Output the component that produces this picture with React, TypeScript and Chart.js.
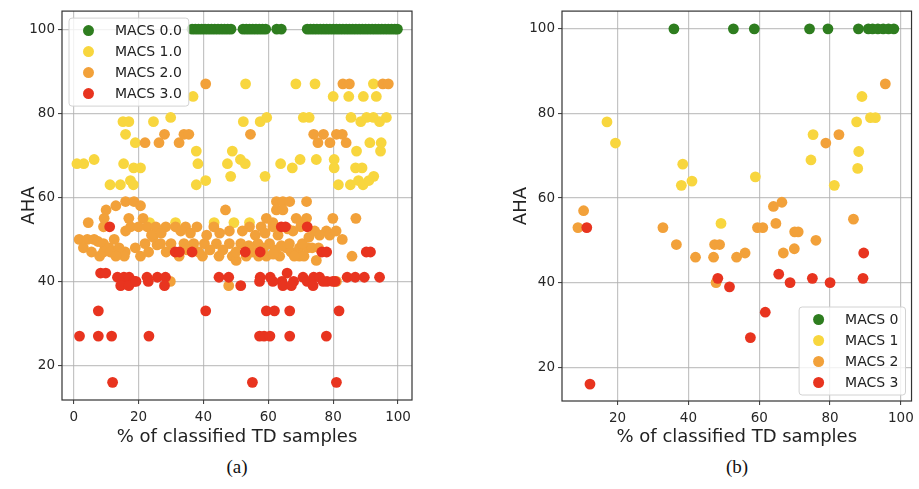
import { useEffect, useRef } from 'react';
import { Chart, registerables } from 'chart.js';

Chart.register(...registerables);

// ---------- data ----------
const seriesColors = ['#2e7d1f', '#f8d63e', '#f2a13a', '#e8341f'];
const labelsA = ['MACS 0.0', 'MACS 1.0', 'MACS 2.0', 'MACS 3.0'];
const labelsB = ['MACS 0', 'MACS 1', 'MACS 2', 'MACS 3'];
const xTicksA = [0, 20, 40, 60, 80, 100];
const xTicksB = [20, 40, 60, 80, 100];
const yTicks = [20, 40, 60, 80, 100];
const xTitle = '% of classified TD samples';
const yTitle = 'AHA';

// panel (a): [% classified, AHA]
const aMacs0: [number, number][] = [
  [36.5, 100], [37.5, 100], [38.5, 100], [39.5, 100], [40.5, 100], [41.5, 100], [42.5, 100],
  [43.5, 100], [44.5, 100], [45.5, 100], [46.5, 100], [47.5, 100], [48.5, 100],
  [52.2, 100], [53.2, 100], [54.2, 100], [55.2, 100], [56.2, 100], [57.2, 100], [58.2, 100], [59.2, 100],
  [62.6, 100], [64, 100],
  [72, 100], [73, 100], [74, 100], [75, 100], [76, 100], [77, 100], [78, 100], [79, 100], [80, 100],
  [81, 100], [82, 100], [83, 100], [84, 100], [85, 100], [86, 100], [87, 100], [88, 100], [89, 100],
  [90, 100], [91, 100], [92, 100], [93, 100], [94, 100], [95, 100], [96, 100], [97, 100], [98, 100],
  [99, 100], [99.8, 100],
];
const aMacs1: [number, number][] = [
  [1, 68], [3.1, 68], [6.3, 69], [11.2, 63], [14.4, 63], [15.2, 78], [17, 78], [15.4, 68], [16, 75],
  [17.5, 64], [18.4, 63], [18.5, 67], [20.6, 67], [19, 73], [24.6, 78], [29.9, 79], [23.4, 54],
  [31.4, 54], [36.8, 84], [37.8, 71], [38.3, 68], [37.8, 63], [40.7, 64], [43.3, 54], [47.4, 68],
  [48.4, 65], [48.9, 71], [49.4, 54], [52.3, 78], [51.4, 69], [52.9, 68], [53, 87], [54.2, 54],
  [57.5, 78], [59.5, 79], [59, 65], [63.8, 68], [67.4, 67], [68.5, 87], [69.8, 69], [70.8, 79],
  [72.6, 79], [74.4, 87], [74.8, 69], [80, 84], [80.3, 69], [80.3, 67], [81.6, 63], [84.8, 84],
  [85.3, 63], [85.5, 79], [87.2, 71], [86.9, 67], [88.5, 78], [87.8, 64], [88.9, 67], [89.3, 84],
  [89.2, 63], [90.3, 79], [91.3, 73], [91, 64], [92.4, 87], [92.4, 79], [92.5, 65], [93.3, 84],
  [94.3, 78], [94.6, 71], [94.8, 73], [96.4, 79],
];
const aMacs2: [number, number][] = [
  [40.7, 87], [83, 87], [85, 87], [95.3, 87], [97, 87], [22, 73], [26.3, 73], [28, 75], [32.5, 73],
  [34, 75], [35.5, 75], [54.5, 75], [74, 75], [77, 75], [75.3, 73], [79, 73], [81, 75], [82.8, 75], [84, 73],
  [10, 57], [13, 58], [16, 59], [18.6, 59], [20.6, 58], [4.5, 54], [9.4, 55], [17, 55], [21.4, 55],
  [46.8, 57], [59.4, 55], [61.4, 54], [62.5, 59], [64.5, 59], [66.6, 59], [62.5, 57], [64.5, 57],
  [71.8, 59], [71.8, 55], [68.6, 55], [70.2, 54], [79.9, 55], [87, 55],
  [9.2, 53], [17.6, 53], [16, 52], [22.7, 53], [25.3, 53], [28.4, 53], [31.4, 53], [34.5, 53], [36, 51.5],
  [43.2, 53], [54.2, 53], [57.8, 53], [61.4, 53], [67.6, 52], [74.3, 52], [77.9, 52], [75.8, 51],
  [78.9, 51], [80.9, 52], [82.8, 50],
  [1.7, 50], [4.2, 50], [6.3, 50], [7.5, 49.5], [9.2, 49], [10.9, 48], [8, 46], [9.2, 47], [11.3, 47],
  [15.9, 47], [15.6, 46], [20.6, 46], [23.1, 47], [25.7, 48.7], [26.8, 49], [32.5, 46], [37, 49],
  [40.3, 49], [44, 49], [48, 49], [51.5, 49], [39.7, 46], [44.8, 46], [48.9, 46], [56.8, 49], [60.4, 49],
  [65.5, 48], [69.6, 48], [72.2, 48], [50.1, 45], [53.2, 46], [59.4, 46], [63.5, 46], [69.6, 46],
  [74.8, 45], [85.8, 46], [55, 47], [62, 47.5], [67, 47], [71, 46], [57, 46],
  [3, 48], [5.5, 47], [12.5, 50], [14, 48], [13, 46], [19, 48], [22, 49], [24.5, 50.5], [28.5, 47],
  [30, 49], [34, 49], [35, 47.5], [38.5, 47], [42, 47.5], [46, 47.5], [50, 47], [54, 48.5], [58.5, 48],
  [61.5, 46.5], [64, 48.5], [66.5, 49], [68, 46], [70.5, 49], [73.5, 48], [75.5, 48],
  [20, 53], [24, 51], [27, 51.5], [33, 52], [38, 53], [41, 51], [45, 51.5], [48, 52], [52, 52],
  [56, 51], [59, 51.5], [63, 51], [66, 52.5], [70, 53], [72.5, 50.5],
  [29.8, 40], [47.8, 39], [81, 40],
];
const aMacs3: [number, number][] = [
  [11.1, 53], [64, 53], [65.3, 53], [72, 53],
  [31.3, 47], [32.6, 47], [36.5, 47], [52.9, 47], [57.5, 47], [76.5, 47], [78, 47], [90.2, 47], [91.5, 47],
  [8.3, 42], [9.9, 42], [65.8, 42],
  [13.5, 41], [15.5, 41], [17.1, 41], [18.6, 40], [22.6, 41], [25.8, 41], [28.3, 41], [44.8, 41],
  [47.8, 41], [57.5, 41], [60.6, 41], [64.2, 40], [67.8, 40], [70.7, 41], [72, 40], [74, 41], [75.8, 41],
  [78.1, 40], [80.6, 40], [84.3, 41], [86.8, 41], [89.6, 41], [94.3, 41],
  [14.5, 39], [17, 39], [19.2, 40], [23, 40], [28, 39], [51.5, 39], [57.3, 40], [61.4, 40], [64.5, 39],
  [67.1, 39], [73.8, 39], [76.9, 40], [79.9, 40],
  [7.6, 33], [40.7, 33], [59.4, 33], [61.9, 33], [66.6, 33], [81.8, 33],
  [1.8, 27], [7.6, 27], [11.7, 27], [23.2, 27], [57.3, 27], [58.7, 27], [60.5, 27], [66.6, 27], [77.9, 27],
  [12, 16], [55.1, 16], [81, 16],
];

// panel (b)
const bMacs0: [number, number][] = [
  [35.9, 100], [52.7, 100], [58.6, 100], [74.2, 100], [79.4, 100], [88, 100], [90.8, 100],
  [92, 100], [93.5, 100], [95, 100], [96.5, 100], [98, 100],
];
const bMacs1: [number, number][] = [
  [17, 78], [19.4, 73], [38.4, 68], [38, 63], [41, 64], [58.9, 65], [75.2, 75], [74.6, 69], [81.2, 63],
  [87.5, 78], [89, 84], [88.1, 71], [87.8, 67], [91.4, 79], [92.8, 79], [49.2, 54],
];
const bMacs2: [number, number][] = [
  [95.6, 87], [78.8, 73], [82.5, 75], [10.4, 57], [8.8, 53], [32.8, 53], [36.6, 49], [42, 46], [47.1, 46],
  [47.4, 49], [48.8, 49], [47.8, 40], [53.6, 46], [56, 47], [59.5, 53], [61, 53], [64, 58], [66.4, 59],
  [64.7, 54], [66.8, 47], [70, 52], [71, 52], [69.9, 48], [76, 50], [86.6, 55],
];
const bMacs3: [number, number][] = [
  [11.3, 53], [48.3, 41], [51.6, 39], [65.5, 42], [68.7, 40], [57.5, 27], [61.7, 33], [75, 41], [80, 40],
  [89.5, 47], [89.3, 41], [12.2, 16],
];

// ---------- plugin: frame + inset legend ----------
const frameLegend = {
  id: 'frameLegend',
  afterDatasetsDraw(chart: any, _args: any, opts: any) {
    const { ctx, chartArea: a } = chart;
    ctx.save();
    ctx.strokeStyle = '#333333';
    ctx.lineWidth = 1.2;
    ctx.strokeRect(a.left, a.top, a.right - a.left, a.bottom - a.top);

    ctx.font = '14px "DejaVu Sans"';
    const ds = chart.data.datasets;
    const tw = Math.max(...ds.map((d: any) => ctx.measureText(d.label).width));
    const w = 46 + tw + 7;
    const rowH = 21;
    const h = ds.length * rowH + 4;
    const x = opts.corner === 'tl' ? a.left + 7 : a.right - 6 - w;
    const y = opts.corner === 'tl' ? a.top + 7 : a.bottom - 6 - h;
    ctx.beginPath();
    if (ctx.roundRect) ctx.roundRect(x, y, w, h, 3);
    else ctx.rect(x, y, w, h);
    ctx.fillStyle = 'rgba(255,255,255,0.8)';
    ctx.fill();
    ctx.strokeStyle = '#d2d2d2';
    ctx.lineWidth = 1;
    ctx.stroke();
    ds.forEach((d: any, i: number) => {
      const cy = y + 12.5 + i * rowH;
      ctx.beginPath();
      ctx.arc(x + 19.5, cy, 5.5, 0, Math.PI * 2);
      ctx.fillStyle = d.backgroundColor;
      ctx.fill();
      ctx.fillStyle = '#222222';
      ctx.textBaseline = 'middle';
      ctx.textAlign = 'left';
      ctx.fillText(d.label, x + 46, cy + 1);
    });
    ctx.restore();
  },
};

type Panel = {
  series: [number, number][][];
  labels: string[];
  xMin: number;
  xMax: number;
  yMin: number;
  yMax: number;
  xTicks: number[];
  yAxisWidth: number;
  yTitlePad: number;
  xAxisHeight: number;
  padTop: number;
  padRight: number;
  corner: 'tl' | 'br';
};

function buildConfig(p: Panel): any {
  const tickFont = { family: '"DejaVu Sans"', size: 13.5 };
  const titleFont = { family: '"DejaVu Sans"', size: 18 };
  const grid = {
    color: 'rgba(176,176,176,0.75)',
    lineWidth: 1.2,
    tickLength: 4,
    tickColor: '#333333',
    tickWidth: 1,
  };
  return {
    type: 'scatter',
    data: {
      datasets: p.series.map((s, i) => ({
        label: p.labels[i],
        data: s.map(([x, y]) => ({ x, y })),
        backgroundColor: seriesColors[i],
        borderColor: seriesColors[i],
        borderWidth: 0,
        pointRadius: 5.4,
        pointHoverRadius: 5.4,
        order: 3 - i,
      })),
    },
    options: {
      animation: false,
      responsive: false,
      maintainAspectRatio: false,
      events: [],
      layout: { padding: { top: p.padTop, right: p.padRight, left: 0, bottom: 0 } },
      plugins: {
        legend: { display: false },
        tooltip: { enabled: false },
        frameLegend: { corner: p.corner },
      },
      scales: {
        x: {
          type: 'linear',
          position: 'bottom',
          min: p.xMin,
          max: p.xMax,
          afterBuildTicks: (s: any) => {
            s.ticks = p.xTicks.map((v) => ({ value: v }));
          },
          afterFit: (s: any) => {
            s.height = p.xAxisHeight;
          },
          ticks: { font: tickFont, color: '#262626', padding: 5, maxRotation: 0 },
          grid,
          border: { display: false },
          title: {
            display: true,
            text: xTitle,
            font: titleFont,
            color: '#222222',
            padding: { top: 0, bottom: 7 },
          },
        },
        y: {
          type: 'linear',
          min: p.yMin,
          max: p.yMax,
          afterBuildTicks: (s: any) => {
            s.ticks = yTicks.map((v) => ({ value: v }));
          },
          afterFit: (s: any) => {
            s.width = p.yAxisWidth;
          },
          ticks: { font: tickFont, color: '#262626', padding: 3 },
          grid,
          border: { display: false },
          title: {
            display: true,
            text: yTitle,
            font: titleFont,
            color: '#222222',
            padding: { top: p.yTitlePad, bottom: 0 },
          },
        },
      },
    },
    plugins: [frameLegend],
  };
}

function ScatterPanel({ panel, width, height }: { panel: Panel; width: number; height: number }) {
  const ref = useRef<HTMLCanvasElement | null>(null);
  useEffect(() => {
    if (!ref.current) return;
    const chart = new Chart(ref.current, buildConfig(panel));
    return () => chart.destroy();
  }, [panel]);
  return <canvas ref={ref} width={width} height={height} style={{ width, height, display: 'block' }} />;
}

const panelA: Panel = {
  series: [aMacs0, aMacs1, aMacs2, aMacs3],
  labels: labelsA,
  xMin: -3.6,
  xMax: 104.3,
  yMin: 11.8,
  yMax: 104.3,
  xTicks: xTicksA,
  yAxisWidth: 62,
  yTitlePad: 19,
  xAxisHeight: 55,
  padTop: 5,
  padRight: 48,
  corner: 'tl',
};

const panelB: Panel = {
  series: [bMacs0, bMacs1, bMacs2, bMacs3],
  labels: labelsB,
  xMin: 4.3,
  xMax: 103,
  yMin: 12,
  yMax: 104.2,
  xTicks: xTicksB,
  yAxisWidth: 72,
  yTitlePad: 21,
  xAxisHeight: 54,
  padTop: 6,
  padRight: 7,
  corner: 'br',
};

export default function App() {
  const caption: any = {
    position: 'absolute',
    top: 455,
    width: 60,
    textAlign: 'center',
    fontFamily: '"Liberation Serif", serif',
    fontSize: 19,
    lineHeight: '24px',
    color: '#111',
  };
  return (
    <div style={{ position: 'absolute', left: 0, top: 0, width: 919, height: 489, background: '#fff' }}>
      <div style={{ position: 'absolute', left: 0, top: 0 }}>
        <ScatterPanel panel={panelA} width={460} height={455} />
      </div>
      <div style={{ position: 'absolute', left: 490, top: 0 }}>
        <ScatterPanel panel={panelB} width={429} height={455} />
      </div>
      <div style={{ ...caption, left: 207 }}>(a)</div>
      <div style={{ ...caption, left: 707 }}>(b)</div>
    </div>
  );
}
